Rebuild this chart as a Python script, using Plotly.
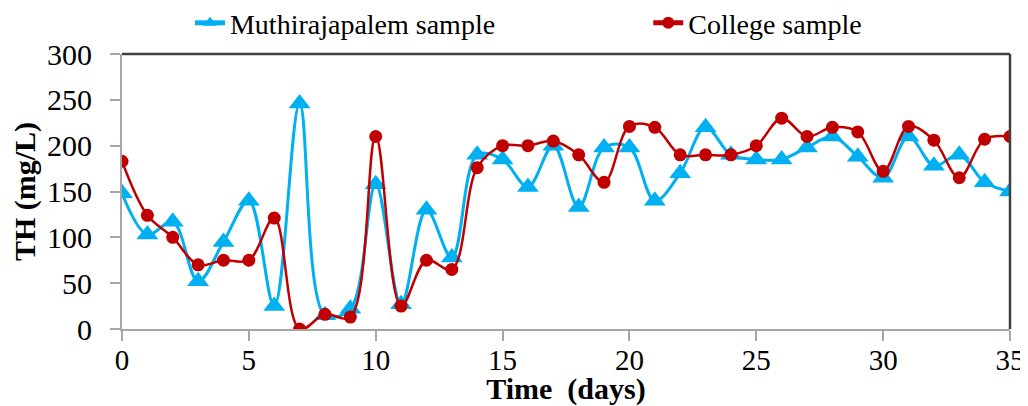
import plotly.graph_objects as go

days = list(range(36))
muthirajapalem = [148, 103, 117, 52, 95, 140, 25, 246, 15, 22, 158, 27, 130, 78, 190, 185,
                  155, 200, 133, 198, 198, 140, 170, 220, 190, 185, 185, 198, 210, 188,
                  165, 210, 178, 190, 160, 150]
college = [183, 124, 100, 70, 75, 75, 121, 0, 16, 13, 210, 25, 75, 65, 176, 200,
           200, 205, 190, 160, 221, 220, 190, 190, 190, 200, 230, 210, 220, 215,
           172, 221, 206, 165, 207, 210]
x_ticks = [0, 5, 10, 15, 20, 25, 30, 35]
y_ticks = [0, 50, 100, 150, 200, 250, 300]

font_family = "Liberation Serif, Times New Roman, serif"

fig = go.Figure()
fig.add_trace(go.Scatter(
    x=days, y=muthirajapalem, name="Muthirajapalem sample", legend="legend",
    mode="lines+markers", line=dict(color="#00B0F0", width=3, shape="spline", smoothing=1),
    marker=dict(symbol="triangle-up", size=19, color="#00B0F0"),
))
fig.add_trace(go.Scatter(
    x=days, y=college, name="College sample", legend="legend2",
    mode="lines+markers", line=dict(color="#C00000", width=2.5, shape="spline", smoothing=1),
    marker=dict(symbol="circle", size=13, color="#C00000"),
))

legend_common = dict(
    orientation="h", xref="container", yref="container",
    y=0.962, xanchor="left", yanchor="middle",
    font=dict(size=28, family=font_family),
    bgcolor="rgba(0,0,0,0)", itemsizing="constant",
)

fig.update_layout(
    width=1020, height=398,
    margin=dict(l=114, r=18, t=46, b=77, autoexpand=False),
    paper_bgcolor="white", plot_bgcolor="white",
    font=dict(family=font_family, color="black"),
    showlegend=True,
    legend=dict(x=0.1784, **legend_common),
    legend2=dict(x=0.6277, **legend_common),
    xaxis=dict(
        range=[0, 35], tickvals=x_ticks, showgrid=False, zeroline=False,
        showline=True, linecolor="#A6A6A6", linewidth=2,
        ticks="outside", ticklen=10, tickcolor="#A6A6A6", tickwidth=2,
        ticklabelstandoff=-6,
        tickfont=dict(size=29, family=font_family),
        title=dict(text="<b>Time  (days)</b>", font=dict(size=30, family=font_family), standoff=1),
    ),
    yaxis=dict(
        range=[0, 300], tickvals=y_ticks, showgrid=False, zeroline=False,
        showline=True, linecolor="#A6A6A6", linewidth=2,
        ticks="outside", ticklen=10, tickcolor="#A6A6A6", tickwidth=2,
        ticklabelstandoff=12,
        tickfont=dict(size=30, family=font_family),
        title=dict(text="<b>TH (mg/L)</b>", font=dict(size=30, family=font_family), standoff=12),
    ),
)
# plot area top and right border
fig.add_shape(type="line", xref="paper", yref="paper", x0=0, x1=1, y0=1, y1=1,
              line=dict(color="#404040", width=2.5))
fig.add_shape(type="line", xref="paper", yref="paper", x0=1, x1=1, y0=0, y1=1,
              line=dict(color="#404040", width=2.5))

fig.write_html("out.html")
